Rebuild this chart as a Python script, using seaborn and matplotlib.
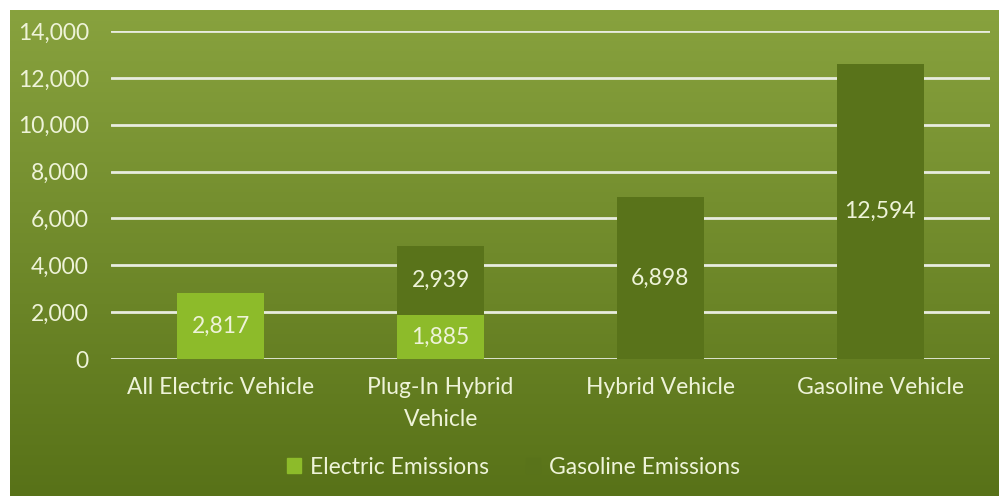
import numpy as np
import pandas as pd
import matplotlib
matplotlib.use("Agg")
import matplotlib.pyplot as plt
import matplotlib.patches as mpatches
import seaborn as sns

categories = ["All Electric Vehicle", "Plug-In Hybrid\nVehicle", "Hybrid Vehicle", "Gasoline Vehicle"]
electric = [2817, 1885, 0, 0]
gasoline = [0, 2939, 6898, 12594]
yticks = [0, 2000, 4000, 6000, 8000, 10000, 12000, 14000]

sns.set_theme(style="white")
plt.rcParams['font.family'] = ['Lato', 'DejaVu Sans']

TXT = "#eef3d8"
C_ELEC = "#8dbb2a"
C_GAS = "#59731a"
FS = 16.5

fig = plt.figure(figsize=(9.99, 4.96), dpi=100)
fig.patch.set_facecolor("white")

# gradient background
bg = fig.add_axes([10/999, 0, 989/999, 1 - 10/496], zorder=-10)
top = np.array([136, 162, 62]) / 255
bot = np.array([88, 114, 24]) / 255
t = np.linspace(0, 1, 256)[:, None]
grad = (top[None, :] * (1 - t) + bot[None, :] * t)[:, None, :]
bg.imshow(grad, aspect="auto", extent=[0, 1, 0, 1])
bg.axis("off")

ax = fig.add_axes([111/999, 1 - 359/496, (990-111)/999, (359-31)/496])
ax.patch.set_alpha(0)

df = pd.DataFrame({"cat": categories, "electric": electric, "gasoline": gasoline})
df["total"] = df["electric"] + df["gasoline"]

sns.barplot(data=df, x="cat", y="total", color=C_GAS, saturation=1, width=0.395, ax=ax,
            zorder=3, linewidth=0, edgecolor="none")
sns.barplot(data=df, x="cat", y="electric", color=C_ELEC, saturation=1, width=0.395, ax=ax,
            zorder=4, linewidth=0, edgecolor="none")

ax.set_ylim(0, 14000)
ax.set_xlim(-0.5, 3.5)
ax.set_yticks(yticks)
ax.set_yticklabels([f"{v:,}" for v in yticks])
ax.set_xlabel("")
ax.set_ylabel("")
for y in yticks:
    ax.axhline(y, color="#e8ecdf", lw=2, zorder=1)
for s in ax.spines.values():
    s.set_visible(False)
ax.tick_params(axis="y", length=0, pad=16, labelsize=FS, labelcolor=TXT)
ax.tick_params(axis="x", length=0, pad=13, labelsize=FS, labelcolor=TXT)
for lbl in ax.get_xticklabels():
    lbl.set_linespacing(1.65)

for i, (e, g) in enumerate(zip(electric, gasoline)):
    if e > 0:
        ax.text(i, e / 2, f"{e:,}", ha="center", va="center", color=TXT, fontsize=FS, zorder=6)
    if g > 0:
        ax.text(i, e + g / 2, f"{g:,}", ha="center", va="center", color=TXT, fontsize=FS, zorder=6)

handles = [mpatches.Patch(color=C_ELEC, label="Electric Emissions"),
           mpatches.Patch(color=C_GAS, label="Gasoline Emissions")]
leg = fig.legend(handles=handles, loc="center", bbox_to_anchor=(0.514, 1 - 467/496), ncol=2,
                 frameon=False, fontsize=FS, handlelength=0.6, handleheight=0.6,
                 handletextpad=0.4, columnspacing=1.6)
for tx in leg.get_texts():
    tx.set_color(TXT)

fig.savefig("out.png", dpi=100)
